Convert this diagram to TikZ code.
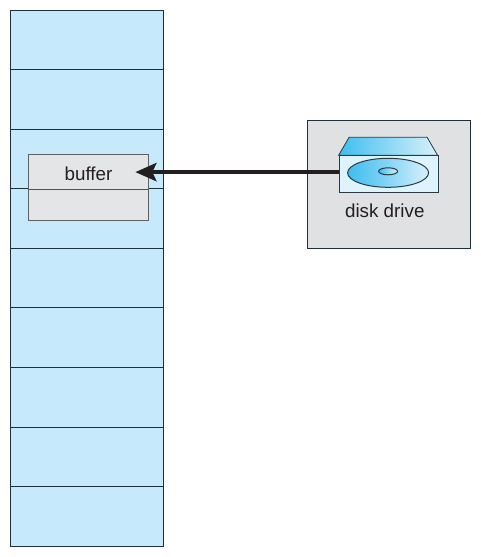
\documentclass[tikz,border=0pt]{standalone}
\usepackage{fontspec}
\setmainfont{Liberation Sans}
\usetikzlibrary{arrows.meta,shapes.geometric}
\definecolor{membg}{HTML}{C6E9FB}
\definecolor{memline}{HTML}{20303A}
\definecolor{buffill}{HTML}{E4E5E7}
\definecolor{bufline}{HTML}{5F6163}
\definecolor{diskbg}{HTML}{E0E1E3}
\definecolor{drvline}{HTML}{2A3A40}
\definecolor{drvfront}{HTML}{DDF3FE}
\definecolor{deepblue}{HTML}{3FBDF0}
\definecolor{paleblue}{HTML}{D8F1FC}
\definecolor{midblue}{HTML}{85D5F6}
\definecolor{txt}{HTML}{231F20}
\tikzset{
  x=1pt,y=-1pt,
  memrow/.style={draw=memline,line width=0.8pt,fill=membg,rectangle,inner sep=0pt,
    minimum width=153pt,anchor=north west},
  label/.style={text=txt,font=\fontsize{18.8pt}{22pt}\selectfont,inner sep=0pt,anchor=base},
}
\begin{document}
\begin{tikzpicture}
\useasboundingbox (0.7,0.7) rectangle (481.7,557.7);
% memory column
\node[memrow,minimum height=59pt] (r1) at (10.5,10.5) {};
\node[memrow,minimum height=60pt] (r2) at (10.5,69.5) {};
\node[memrow,minimum height=59.5pt] (r3) at (10.5,129.5) {};
\node[memrow,minimum height=59.5pt] (r4) at (10.5,189) {};
\node[memrow,minimum height=59.5pt] (r5) at (10.5,248.5) {};
\node[memrow,minimum height=60pt] (r6) at (10.5,308) {};
\node[memrow,minimum height=59.5pt] (r7) at (10.5,368) {};
\node[memrow,minimum height=59.5pt] (r8) at (10.5,427.5) {};
\node[memrow,minimum height=59.5pt] (r9) at (10.5,487) {};
% buffer
\node[draw=bufline,line width=1pt,fill=buffill,rectangle,inner sep=0pt,
  minimum width=120.5pt,minimum height=66.5pt,anchor=north west] (bufbox) at (28.3,154.3) {};
\draw[memline!80!buffill,line width=0.8pt] (bufbox.west |- r3.south) -- (bufbox.east |- r3.south);
\node[label] (buflabel) at (89.2,180.7) {buffer};
% disk box
\node[draw=memline,line width=0.9pt,fill=diskbg,rectangle,inner sep=0pt,
  minimum width=163pt,minimum height=128pt,anchor=north west] (diskbox) at (307.8,120.8) {};
% drive
\draw[drvline,line width=0.8pt,left color=deepblue,right color=paleblue]
  (339.3,156) -- (349.8,138) -- (427.8,138) -- (438.3,156) -- cycle;
\node[draw=drvline,line width=0.8pt,fill=drvfront,rectangle,inner sep=0pt,
  minimum width=99pt,minimum height=36.5pt,anchor=north west] (drive) at (339.3,156) {};
\node[draw=drvline,line width=1pt,ellipse,inner sep=0pt,minimum width=81pt,minimum height=29pt,
  left color=deepblue,right color=paleblue,middle color=midblue] (platter) at (388.8,173.5) {};
\node[draw=drvline,line width=1pt,ellipse,inner sep=0pt,minimum width=19pt,minimum height=7pt,
  left color=deepblue,right color=paleblue,middle color=deepblue!60!white] (hole) at (388.8,172) {};
\node[label] (disklabel) at (385.5,217.7) {disk drive};
% arrow
\coordinate (tip) at (136,172.8);
\draw[txt,line width=4.5pt,-{Stealth[length=21pt,width=18pt,inset=4pt]}]
  (drive.west |- tip) -- (tip);
\end{tikzpicture}
\end{document}
